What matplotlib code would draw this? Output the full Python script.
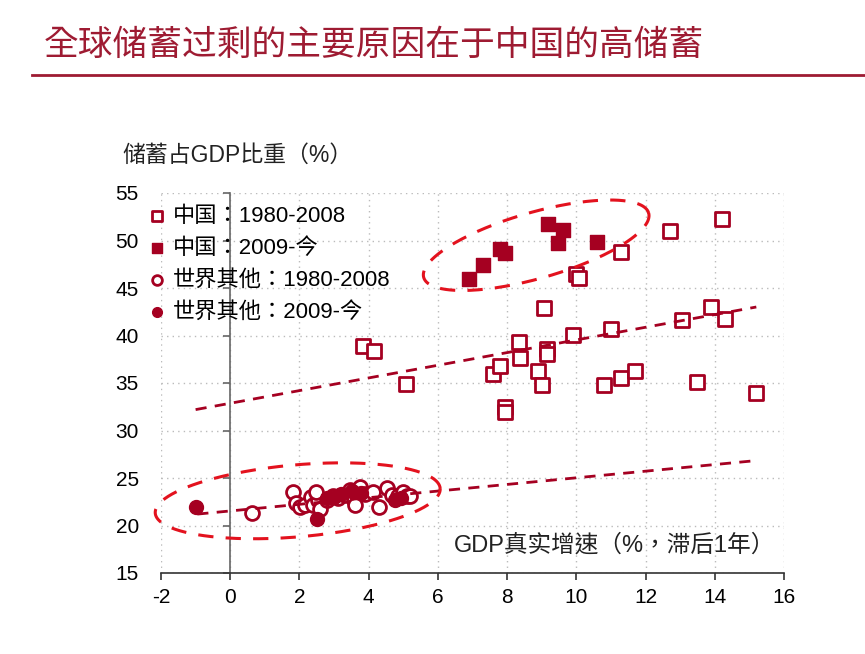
import numpy as np
import matplotlib
matplotlib.use('Agg')
import matplotlib.pyplot as plt

plt.rcParams['font.family'] = ['Liberation Sans', 'Noto Sans CJK TC', 'DejaVu Sans']
plt.rcParams['axes.unicode_minus'] = False

# China 1980-2008 (GDP growth lagged, savings % GDP)
cn_old_x = [3.84, 4.16, 5.09, 7.60, 7.80, 8.33, 8.38, 8.90, 9.00, 9.15, 9.15, 7.95, 7.95,
            9.08, 9.90, 11.00, 10.80, 11.30, 11.70, 13.05, 13.50, 13.90, 14.30, 15.20,
            10.00, 10.07, 11.30, 12.70, 14.20]
cn_old_y = [38.9, 38.4, 34.9, 36.0, 36.8, 39.3, 37.6, 36.3, 34.8, 38.6, 38.1, 32.5, 31.9,
            42.9, 40.1, 40.7, 34.8, 35.5, 36.3, 41.6, 35.1, 43.0, 41.7, 33.9,
            46.5, 46.1, 48.8, 51.0, 52.3]
# China 2009-
cn_new_x = [6.91, 7.30, 7.80, 7.95, 9.17, 9.61, 9.47, 10.61]
cn_new_y = [45.9, 47.4, 49.1, 48.7, 51.7, 51.1, 49.7, 49.8]
# rest of world 1980-2008
rw_old_x = [1.82, 1.91, 2.02, 2.17, 2.34, 2.40, 2.54, 2.60, 2.80, 2.98, 3.12, 3.32, 3.47,
            3.58, 3.64, 3.76, 3.90, 4.31, 4.54, 4.68, 4.86, 5.00, 5.12, 5.20, 3.60, 4.13,
            2.49, 0.64]
rw_old_y = [23.5, 22.4, 22.0, 22.2, 23.0, 22.2, 22.7, 21.7, 22.7, 23.1, 22.9, 23.2, 23.7,
            22.7, 23.4, 24.1, 23.3, 22.0, 23.9, 23.2, 23.1, 23.5, 23.1, 23.1, 22.2, 23.5,
            23.5, 21.3]
# rest of world 2009-
rw_new_x = [-0.98, 2.51, 2.80, 3.00, 3.21, 3.53, 3.79, 4.77, 4.94]
rw_new_y = [22.0, 20.7, 22.9, 23.0, 23.3, 23.6, 23.4, 22.7, 22.9]

# trend lines
cn_trend_x = [-1.0, 15.2]
cn_trend_y = [32.2, 43.0]
rw_trend_x = [-0.95, 15.1]
rw_trend_y = [21.2, 26.8]

labels = ['中国：1980-2008', '中国：2009-今', '世界其他：1980-2008', '世界其他：2009-今']

dark_red = '#A50021'
bright_red = '#E3121E'
title_red = '#9E1B32'

fig = plt.figure(figsize=(8.65, 6.54), dpi=100)
fig.text(44 / 865, 1 - 45 / 654, '全球储蓄过剩的主要原因在于中国的高储蓄',
         fontsize=25, color=title_red, va='center', ha='left')
fig.add_artist(plt.Line2D([32 / 865, 1.0], [1 - 75 / 654, 1 - 75 / 654],
                          color=title_red, lw=2, transform=fig.transFigure))
fig.text(122 / 865, 1 - 155 / 654, '储蓄占GDP比重（%）', fontsize=16.5,
         color='#222222', va='center', ha='left')

ax = fig.add_axes([161 / 865, 1 - 573 / 654, 623 / 865, 380 / 654])
ax.set_xlim(-2, 16)
ax.set_ylim(15, 55)
ax.set_xticks(range(-2, 17, 2))
ax.set_yticks(range(15, 56, 5))
ax.grid(True, color='#BBBBBB', linestyle=(0, (1, 3)), lw=1)
ax.set_axisbelow(True)
for s in ['top', 'right']:
    ax.spines[s].set_visible(False)
ax.spines['bottom'].set_color('#333333')
ax.spines['bottom'].set_linewidth(1.2)
ax.spines['left'].set_position(('data', 0))
ax.spines['left'].set_color('#666666')
ax.spines['left'].set_linewidth(1.2)
ax.tick_params(axis='x', direction='out', length=5, width=1.2, color='#333333',
               labelsize=15, pad=6)
ax.tick_params(axis='y', direction='out', length=5, width=1.2, color='#666666',
               labelleft=False)
sec = ax.secondary_yaxis(0)
sec.spines['left'].set_visible(False)
sec.set_yticks(range(15, 56, 5))
sec.tick_params(length=0, labelsize=15, pad=16)

ms = 110
ax.scatter(cn_old_x, cn_old_y, s=ms, marker='s', facecolors='white',
           edgecolors=dark_red, linewidths=2, label=labels[0], zorder=3)
ax.scatter(cn_new_x, cn_new_y, s=ms, marker='s', color=dark_red, label=labels[1], zorder=4)
ax.scatter(rw_old_x, rw_old_y, s=100, marker='o', facecolors='white',
           edgecolors=dark_red, linewidths=2, label=labels[2], zorder=3)
ax.scatter(rw_new_x, rw_new_y, s=100, marker='o', color=dark_red, label=labels[3], zorder=4)

ax.plot(cn_trend_x, cn_trend_y, color=dark_red, lw=2, linestyle=(0, (4, 3)), zorder=5)
ax.plot(rw_trend_x, rw_trend_y, color=dark_red, lw=2, linestyle=(0, (4, 3)), zorder=5)


def draw_ellipse(cx, cy, a, b, angle):
    # a, b in pixels; drawn in display space so shape is kept
    c = ax.transData.transform((cx, cy))
    t = np.linspace(0, 2 * np.pi, 300)
    th = np.deg2rad(angle)
    px = c[0] + a * np.cos(t) * np.cos(th) - b * np.sin(t) * np.sin(th)
    py = c[1] + a * np.cos(t) * np.sin(th) + b * np.sin(t) * np.cos(th)
    pts = ax.transData.inverted().transform(np.column_stack([px, py]))
    ax.plot(pts[:, 0], pts[:, 1], color=bright_red, lw=2.2,
            linestyle=(0, (5, 4)), zorder=6, clip_on=False)


draw_ellipse(8.84, 49.5, 117, 33, 16)
draw_ellipse(1.95, 22.6, 143, 36, 5)

ax.text(15.75, 17.95, 'GDP真实增速（%，滞后1年）', fontsize=17, ha='right',
        va='center', color='#222222')

leg = ax.legend(loc='upper left', bbox_to_anchor=(-0.024, 0.967), frameon=False,
                fontsize=16, handlelength=1.0, handletextpad=0.2, labelspacing=0.5,
                borderpad=0, borderaxespad=0, markerscale=0.7)

fig.savefig('out.png', dpi=100)
